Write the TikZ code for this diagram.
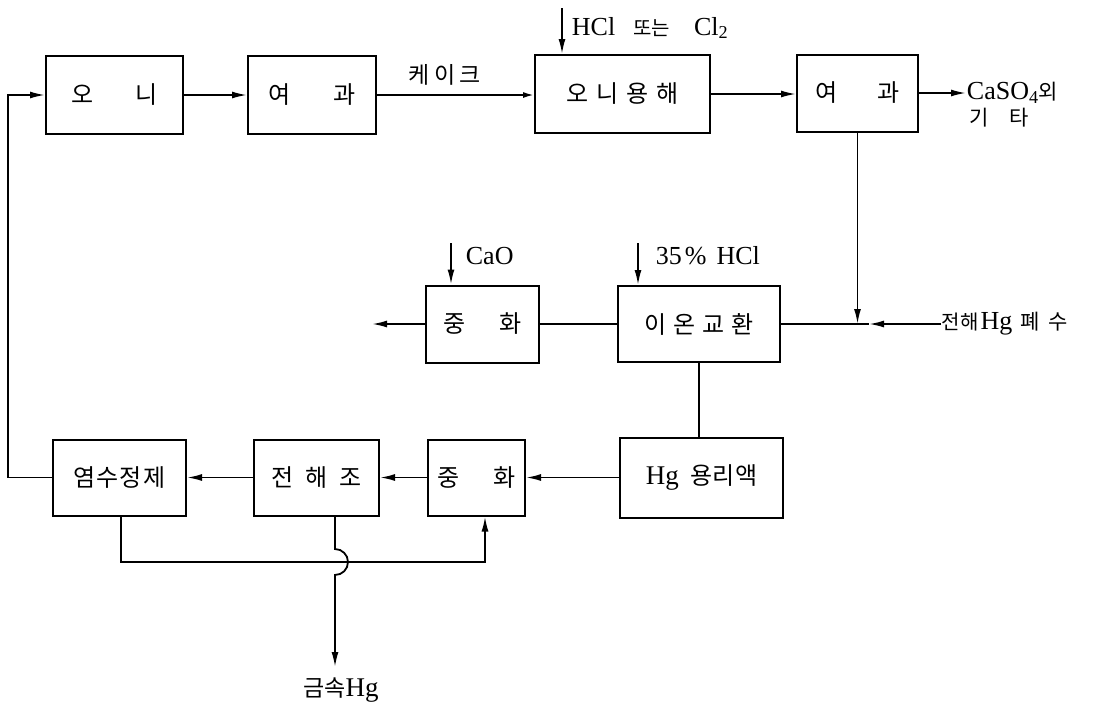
\documentclass[tikz,border=0pt]{standalone}
\usepackage{fontspec}
\setmainfont{Liberation Serif}
\newfontfamily\kr{Noto Sans CJK KR}
\usetikzlibrary{arrows.meta}
\begin{document}
\begin{tikzpicture}[x=1pt,y=-1pt,line width=1.8pt,
  box/.style={draw, line width=2pt, inner sep=0pt, font=\kr\fontsize{24}{26}\selectfont},
  lab/.style={inner sep=0pt, anchor=west, font=\fontsize{26}{28}\selectfont},
  klab/.style={inner sep=0pt, anchor=west, font=\kr\fontsize{21}{23}\selectfont},
  arr/.style={-{Latex[length=15pt,width=7pt]}},
  oarr/.style={-{Latex[open,length=11pt,width=6pt]}}]
\useasboundingbox (0,0) rectangle (1095,705);
% top row
\node[box, minimum width=137pt, minimum height=78pt] (oni) at (114.5,95) {오\hspace{42pt}니};
\node[box, minimum width=128pt, minimum height=78pt] (filt1) at (312,95) {여\hspace{43pt}과};
\node[box, minimum width=175pt, minimum height=78pt] (dissolve) at (622.5,94) {오\hspace{8pt}니\hspace{8pt}용\hspace{8pt}해};
\node[box, minimum width=121pt, minimum height=77pt] (filt2) at (857.5,93) {여\hspace{40pt}과};
% middle row
\node[box, minimum width=113pt, minimum height=77pt] (neut1) at (482.5,324) {중\hspace{34pt}화};
\node[box, minimum width=162pt, minimum height=76pt] (ion) at (699,324) {이\hspace{7pt}온\hspace{7pt}교\hspace{7pt}환};
% bottom row
\node[box, minimum width=133pt, minimum height=76pt] (brine) at (119.5,477.5) {염\hspace{1pt}수\hspace{1pt}정\hspace{1pt}제};
\node[box, minimum width=125pt, minimum height=76pt] (elec) at (316.5,477.5) {전\hspace{12pt}해\hspace{12pt}조};
\node[box, minimum width=97pt, minimum height=76pt] (neut2) at (476.5,477.5) {중\hspace{34pt}화};
\node[box, minimum width=163pt, minimum height=80pt] (hg) at (701.5,477.5) {{\rmfamily\fontsize{27}{29}\selectfont Hg}\hspace{12pt}용\hspace{0pt}리\hspace{0pt}액};
% labels
\node[klab, font=\kr\fontsize{23}{25}\selectfont] (cake) at (408,75) {케\hspace{4pt}이\hspace{4pt}크};
\node[lab] (hcllab) at (571,28) {HCl\hspace{18pt}{\kr\fontsize{20}{22}\selectfont 또는}\hspace{24pt}Cl\textsubscript{2}};
\node[lab] (caso) at (966,93) {CaSO\textsubscript{4}{\kr\fontsize{21}{23}\selectfont 외}};
\node[klab] (gita) at (969,118) {기\hspace{20pt}타};
\node[lab] (caolab) at (465,256) {CaO};
\node[lab] (hcl35) at (655,256) {35\hspace{3pt}\%\hspace{10pt}HCl};
\node[lab] (waste) at (941,324) {{\kr\fontsize{20}{22}\selectfont 전해}\hspace{2pt}Hg\hspace{8pt}{\kr\fontsize{21}{23}\selectfont 폐\hspace{9pt}수}};
\node[inner sep=0pt, font=\fontsize{27}{29}\selectfont] (metal) at (341,690) {{\kr\fontsize{23}{25}\selectfont 금속}Hg};
% coordinates
\coordinate (hcltop) at (562,8);
\coordinate (caotop) at (451,243);
\coordinate (h35top) at (638,243);
\coordinate (fb) at (8,0);
\coordinate (lout) at (372,324);
\coordinate (j) at (857.5,324);
\coordinate (jr) at (869,324);
\coordinate (lb) at (121,562);
\coordinate (rb) at (485,562);
\coordinate (ea) at (335,549);
\coordinate (eb) at (335,667);
% top connectors
\draw[arr] (oni.east) -- (oni.east -| filt1.west);
\draw[oarr] (filt1.east) -- (filt1.east -| dissolve.west);
\draw[arr] (dissolve.east) -- (dissolve.east -| filt2.west);
\draw[arr] (filt2.east) -- (filt2.east -| caso.west);
\draw[arr] (hcltop) -- (hcltop |- dissolve.north);
% middle connectors
\draw[arr] (caotop) -- (caotop |- neut1.north);
\draw[arr] (h35top) -- (h35top |- ion.north);
\draw[arr] (neut1.west) -- (lout);
\draw (neut1.east) -- (ion.west);
\draw (ion.east) -- (jr);
\draw[arr] (filt2.south) -- (j);
\draw[arr] (waste.west) -- (jr);
\draw (ion.south) -- (ion.south |- hg.north);
% bottom connectors
\draw[arr] (hg.west) -- (neut2.east);
\draw[arr] (neut2.west) -- (elec.east);
\draw[arr] (elec.west) -- (brine.east);
\draw[arr] (brine.west) -- (brine.west -| fb) -- (fb |- oni.west) -- (oni.west);
\draw[arr] (brine.south -| lb) -- (lb) -- (rb) -- (rb |- neut2.south);
\draw[arr] (elec.south -| ea) -- (ea) arc[start angle=90, end angle=-90, radius=13pt] -- (eb);
\end{tikzpicture}
\end{document}
